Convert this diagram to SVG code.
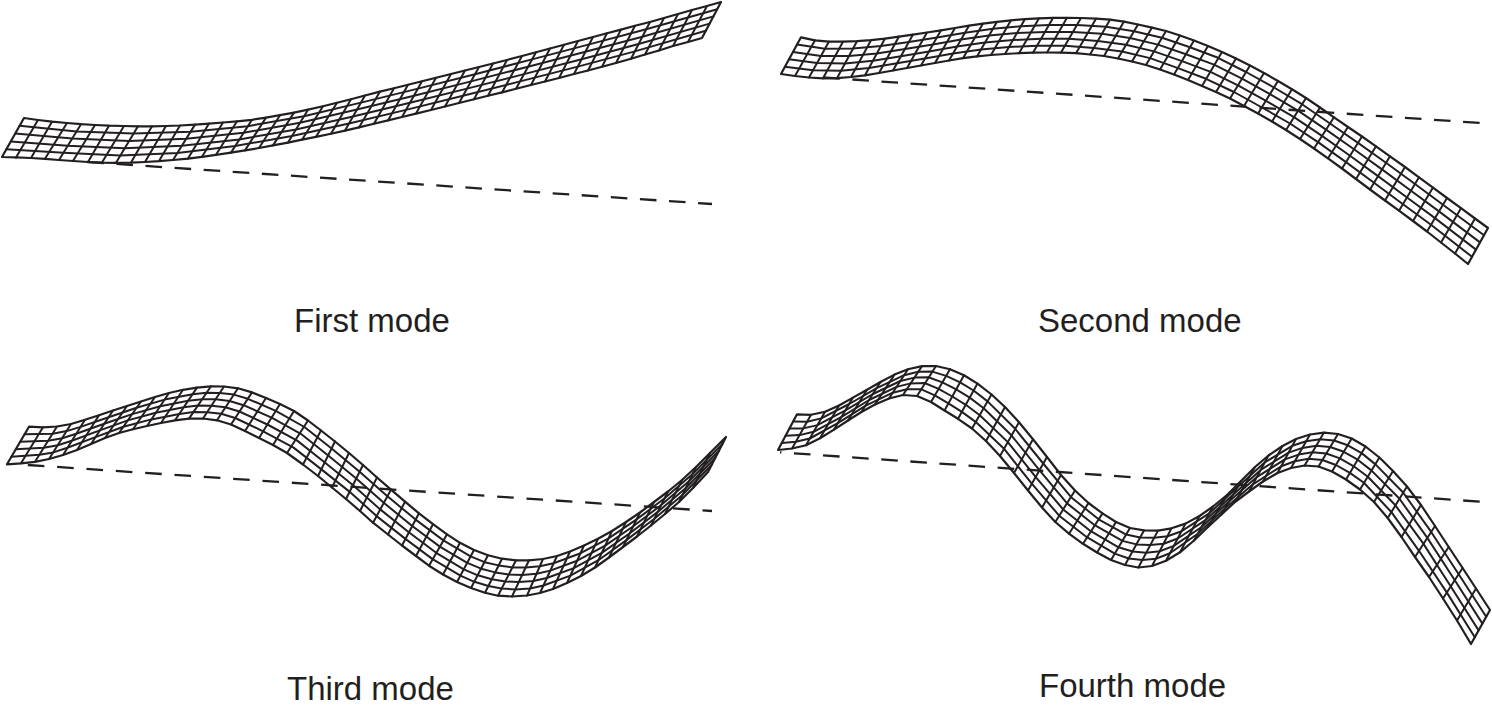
<svg xmlns="http://www.w3.org/2000/svg" width="1492" height="708" viewBox="0 0 1492 708">
<style>
.mesh{fill:none;stroke:#231f20;stroke-width:2;stroke-linejoin:round;stroke-linecap:round}
.edge{fill:none;stroke:#231f20;stroke-width:2.2;stroke-linejoin:round;stroke-linecap:round}
.axis{fill:none;stroke:#231f20;stroke-width:2.3}
.lbl{font-family:"Liberation Sans",Arial,sans-serif;font-size:33px;fill:#231f20}
</style>
<rect width="1492" height="708" fill="#ffffff"/>
<g id="axes">
<path class="axis" stroke-dasharray="16.6 12.55" d="M87.3 162L712 204"/>
<path class="axis" stroke-dasharray="16.6 12.55" d="M823.3 77.5L1480 123"/>
<path class="axis" stroke-dasharray="16.6 12.8" d="M27.8 465L712 511"/>
<path class="axis" stroke-dasharray="16.6 12.57" stroke-dashoffset="15.2" d="M780 452.3L1480 501.7"/>
</g>
<g id="first-mode">
<path class="edge" d="M24 118L38 120 52 121.7 67 123 81 124.2 95 125 109 125.7 124 126 138 126.3 152 126.3 166 126 180 125.5 195 124.6 209 123.6 223 122.5 237 121.3 252 119.8 266 117.6 280 115.2 294 112.6 308 109.7 323 106.3 337 102.8 351 99.2 365 95.5 380 91.6 394 88.2 408 84.8 422 81.3 436 77.8 451 74 465 70.5 479 67 493 63.5 507 60 522 56 536 52.3 550 48.5 564 44.8 578 41 593 37 607 33.2 621 29.6 635 25.8 650 22 664 18 678 14 692 10 707 6 721 2L702 38 688 42 673 46 659 50.5 645 54.5 631 58.7 616 63 602 66.8 588 70.5 574 74 559 78 545 81.5 531 85 516 88.8 502 92.4 488 95.8 474 99.3 459 103 445 106.5 431 110 416 113.6 402 117 388 120.4 374 123.8 359 127.4 345 130.6 331 133.7 316 136.8 302 139.7 288 142.6 273 145.4 259 148 245 150.4 231 152.6 216 154.8 202 156.8 188 158.6 173 160 159 161.2 145 162 131 162.6 116 162.8 102 162.6 88 162 73 161 59 160 45 158.9 31 158 16 157.4 2 157Z"/>
<path class="mesh" d="M19.6 125.8L76.6 131.4 133.6 133.6 190.6 131.7 247.8 126.2 304 116.3 361 102.6 418 88.6 475 74.2 532 59.4 589.2 44.4 646.2 29.3 717.2 9.2M15.2 133.6L72.2 138.5 129.2 140.9 186.2 138.8 243.6 132.8 300 122.8 357 109.5 414 95.7 471 81.4 528 66.7 585.4 51.8 642.4 36.7 713.4 16.4M10.8 141.4L67.8 145.7 124.8 148.2 181.8 145.8 239.4 139.4 296 129.4 353 116.6 410 102.8 467 88.6 524 74.1 581.6 59.2 638.6 44 709.6 23.6M6.4 149.2L63.4 152.8 120.4 155.5 177.4 152.9 235.2 146 292 136 349 123.5 406 109.9 463 95.8 520 81.4 577.8 66.6 634.8 51.4 705.8 30.8"/>
<path class="mesh" d="M38 120L16 157.6M52 121.7L31 158M67 123L45 158.8M81 124.2L59 160M95 125L73 161M109 125.7L88 162M124 126L102 162.6M138 126.3L116 162.8M152 126.3L131 162.6M166 126L145 162M180 125.5L159 161M195 124.6L173 160M209 123.6L188 158.6M223 122.5L202 156.8M237 121.3L216 154.8M252 119.8L231 152.6M266 117.6L245 150.4M280 115.2L259 148M294 112.6L273 145.4M308 109.7L288 142.6M323 106.3L302 139.7M337 102.8L316 136.8M351 99.2L331 133.7M365 95.5L345 130.6M380 91.6L359 127.4M394 88.2L374 123.8M408 84.8L388 120.4M422 81.3L402 117M436 77.8L416 113.6M451 74L431 110M465 70.5L445 106.5M479 67L459 103M493 63.5L474 99.3M507 60L488 95.8M522 56L502 92.4M536 52.3L516 88.8M550 48.5L531 85M564 44.8L545 81.5M578 41L559 78M593 37L574 74M607 33.2L588 70.5M621 29.6L602 66.8M635 25.8L616 63M650 22L631 58.7M664 18L645 54.5M678 14L659 50.5M692 10L673 46M707 6L688 42"/>
</g>
<g id="second-mode">
<path class="edge" d="M801 37.3L815 40.3 829 41.6 843 41.7 857 41.2 871 40.2 885 38.6 899 36.6 913 34.6 927 32.5 941 30.3 955 28 969 25.7 983 23.6 997 21.8 1011 20.3 1025 19.1 1039 18.3 1053 17.9 1067 17.8 1081 18 1096 18.7 1110 19.7 1124 21.6 1138 24.5 1152 27.6 1166 31 1180 35.5 1194 40.5 1208 46 1222 52 1236 58.5 1250 65.5 1264 73 1278 81 1292 89.3 1306 98 1320 107.5 1334 117.3 1348 127 1362 136.5 1376 146.3 1390 156.3 1405 167 1419 177.3 1433 187.6 1447 198 1461 208.2 1475 218.5 1488 228L1468 264 1455 253.5 1441 242.5 1427 231.5 1413 221 1399 210.7 1385 200.5 1370 189.5 1356 179 1342 168.5 1328 158.3 1314 148.5 1300 139 1286 130 1272 121.5 1258 113.5 1244 106 1230 98.5 1216 92 1202 86 1188 80 1174 74.5 1160 69.5 1146 65 1132 61.5 1118 58.5 1104 56 1090 54.5 1076 53.2 1061 52.6 1047 52.5 1033 52.7 1019 53.2 1005 54 991 55 977 56.4 963 58.2 949 60.5 935 63 921 65.5 907 68 893 70.5 879 73 865 75.3 851 77 837 78.2 823 78.3 809 77.5 795 76 781 74Z"/>
<path class="mesh" d="M797 44.6L825 48.8 853 48.6 881 46.1 909 41.9 937 37.4 965 32.7 993 28.7 1021 26.2 1049 24.9 1077 25 1106 26.8 1134 31.3 1162 37.8 1190 47.2 1218 57.8 1246 72 1274 87.5 1302 104.2 1330 123.5 1358 142.9 1386 162.7 1415 184 1443 204.7 1484 235.2M793 52L821 56 849 56 877 53.4 905 49 933 44.4 961 39.6 989 35.6 1017 33.1 1045 31.9 1073 31.9 1102 33.7 1130 38 1158 44.6 1186 54.2 1214 64.6 1242 78.6 1270 94.2 1298 110.6 1326 129.7 1354 149.3 1382 169.4 1411 190.8 1439 211.4 1480 242.4M789 59.3L817 63.1 845 63.4 873 60.7 901 56.2 929 51.5 957 46.6 985 42.5 1013 40.1 1041 38.8 1069 38.8 1098 40.9 1126 44.7 1154 51.4 1182 61.1 1210 71.6 1238 85.3 1266 100.8 1294 117.1 1322 135.9 1350 155.7 1378 176.1 1407 197.5 1435 218.1 1476 249.6M785 66.7L813 70.3 841 70.8 869 68 897 63.3 925 58.5 953 53.5 981 49.4 1009 47 1037 45.8 1065 45.7 1094 47.9 1122 51.5 1150 58.1 1178 68.1 1206 78.8 1234 92 1262 107.5 1290 123.5 1318 142.1 1346 162.1 1374 182.8 1403 204.3 1431 224.8 1472 256.8"/>
<path class="mesh" d="M815 40.3L795 76M829 41.6L809 77.5M843 41.7L823 78.3M857 41.2L837 78.2M871 40.2L851 77M885 38.6L865 75.3M899 36.6L879 73M913 34.6L893 70.5M927 32.5L907 68M941 30.3L921 65.5M955 28L935 63M969 25.7L949 60.5M983 23.6L963 58.2M997 21.8L977 56.4M1011 20.3L991 55M1025 19.1L1005 54M1039 18.3L1019 53.2M1053 17.9L1033 52.7M1067 17.8L1047 52.5M1081 18L1061 52.6M1096 18.7L1076 53.2M1110 19.7L1090 54.5M1124 21.6L1104 56M1138 24.5L1118 58.5M1152 27.6L1132 61.5M1166 31L1146 65M1180 35.5L1160 69.5M1194 40.5L1174 74.5M1208 46L1188 80M1222 52L1202 86M1236 58.5L1216 92M1250 65.5L1230 98.5M1264 73L1244 106M1278 81L1258 113.5M1292 89.3L1272 121.5M1306 98L1286 130M1320 107.5L1300 139M1334 117.3L1314 148.5M1348 127L1328 158.3M1362 136.5L1342 168.5M1376 146.3L1356 179M1390 156.3L1370 189.5M1405 167L1385 200.5M1419 177.3L1399 210.7M1433 187.6L1413 221M1447 198L1427 231.5M1461 208.2L1441 242.5M1475 218.5L1455 253.5"/>
</g>
<g id="third-mode">
<path class="edge" d="M29 426.7L43 427.3 57 426.5 71 424 85 419.8 99 415.2 113 410.5 127 406 141 401.5 155 397 169 393 183 389.8 197 387.6 211 386.3 224 386.5 238 388.3 252 392.4 266 398 280 404 294 411 308 420.5 321 430.5 335 441.5 349 453 363 465 377 477.5 391 489.7 405 501.7 419 513.3 433 524.2 447 534.3 460 542.8 474 550 488 555.3 502 558.7 516 560.3 529 560.3 543 559 557 556 570 551.5 584 545.5 598 538.8 612 531 626 522 640 512.5 654 502 668 491.5 682 480 696 467 710 453 726 437L708 472 693 488 679 502 665 514 651 525.5 637 536.5 623 547 609 557.5 595 567.5 581 576 567 583 553 589 540 593 527 595.5 512 596.5 498 595.7 485 592.7 471 588 457 582 443 574.5 429 565.7 416 556 402 545.5 388 534.5 373 522.7 360 511 346 499 332 487.5 318 476 303 464.5 287 453 273 445 259 438 245 431 231 424.5 217 420.3 203 418.5 189 418.6 175 420.3 161 423 147 426 133 429.3 119 433 105 438 91 444 77 450 63 455 49 459 35 461.8 21 463.3 7 464.3Z"/>
<path class="mesh" d="M24.6 434.2L52.6 433.8 66.6 431.1 80.6 426.9 108.6 417.2 136.6 407.8 164.6 399.6 192.6 394.2 206.6 392.7 219.8 392.9 233.8 394.6 247.8 398.8 275.8 410.8 304.4 427 331.6 448.5 359.6 471.8 387.4 496.2 415.6 519.6 443.4 540.4 470.6 556.4 484.6 562.2 498.6 565.4 512.4 567.4 525.6 567.6 539.8 566.3 553.6 563.2 580.6 553.2 608.6 538.3 636.6 519.4 664.6 498.3 692.6 474 722.4 444M20.2 441.7L48.2 440.8 62.2 438.2 76.2 433.8 104.2 423.8 132.2 414.1 160.2 406.2 188.2 400.8 202.2 399.2 215.6 399.3 229.6 401 243.6 405.2 271.6 417.6 300.8 433.8 328.2 455.5 356.2 478.4 383.8 502.8 412.2 526 439.8 546.6 467.2 562.8 481.2 568.7 495.2 572.4 508.8 574.5 522.2 574.9 536.6 573.7 550.2 570.6 577.2 560.7 605.2 545.6 633.2 526.3 661.2 505.1 689.2 481 718.8 451M15.8 449.3L43.8 447.8 57.8 445.3 71.8 440.8 99.8 430.4 127.8 420.4 155.8 412.8 183.8 407.3 197.8 405.6 211.4 405.8 225.4 407.3 239.4 411.5 267.4 424.5 297.2 440.6 324.8 462.5 352.8 485 380.2 509.4 408.8 532.3 436.2 552.8 463.8 569.3 477.8 575.3 491.8 579.2 505.2 581.5 518.8 582.1 533.4 581 546.8 578 573.8 568.1 601.8 552.9 629.8 533.2 657.8 511.9 685.8 488 715.2 458M11.4 456.8L39.4 454.8 53.4 452.4 67.4 447.8 95.4 437.1 123.4 426.7 151.4 419.4 179.4 413.9 193.4 412.1 207.2 412.2 221.2 413.7 235.2 418 263.2 431.3 293.6 447.6 321.4 469.4 349.4 491.6 376.6 516.1 405.4 538.9 432.6 559.1 460.4 575.7 474.4 581.8 488.4 586 501.6 588.6 515.4 589.4 530.2 588.4 543.4 585.5 570.4 575.6 598.4 560.2 626.4 540.1 654.4 518.7 682.4 495 711.6 465"/>
<path class="mesh" d="M43 427.3L21 463.3M57 426.5L35 461.8M71 424L49 459M85 419.8L63 455M99 415.2L77 450M113 410.5L91 444M127 406L105 438M141 401.5L119 433M155 397L133 429.3M169 393L147 426M183 389.8L161 423M197 387.6L175 420.3M211 386.3L189 418.6M224 386.5L203 418.5M238 388.3L217 420.3M252 392.4L231 424.5M266 398L245 431M280 404L259 438M294 411L273 445M308 420.5L287 453M321 430.5L303 464.5M335 441.5L318 476M349 453L332 487.5M363 465L346 499M377 477.5L360 511M391 489.7L373 522.7M405 501.7L388 534.5M419 513.3L402 545.5M433 524.2L416 556M447 534.3L429 565.7M460 542.8L443 574.5M474 550L457 582M488 555.3L471 588M502 558.7L485 592.7M516 560.3L498 595.7M529 560.3L512 596.5M543 559L527 595.5M557 556L540 593M570 551.5L553 589M584 545.5L567 583M598 538.8L581 576M612 531L595 567.5M626 522L609 557.5M640 512.5L623 547M654 502L637 536.5M668 491.5L651 525.5M682 480L665 514M696 467L679 502M710 453L693 488"/>
</g>
<g id="fourth-mode">
<path class="edge" d="M797 414.3L811 414.8 825 411.7 839 405.5 853 397.6 867 389.7 880.5 382 894.5 374.6 908 369.2 922 366.1 936 366 950 369.2 964 375.3 977.5 383.6 991.5 394.5 1005 407 1019 422.2 1033 439.3 1047 457 1061 475 1075 490.5 1088.5 503 1102.5 513.4 1116 522 1130 528 1144 530.4 1158 530.6 1171.5 528.3 1185.5 523.6 1199.5 516 1213 506.5 1227 495 1241 481 1255 467 1268.5 455.5 1282.5 446 1296 439 1310 434.5 1324 432.6 1338 434 1351.7 438.5 1365.5 446.5 1379.4 457.5 1393 471 1407 486.5 1421 505 1435 526 1448.7 547 1462.6 568 1476 588.5 1490 610L1471 644 1457 620.5 1443 598.5 1429 577 1415 557 1401.5 537 1387.7 518 1374 502 1360 489.5 1346 479.5 1332 471.5 1318.5 466.5 1304.6 465.5 1291 468 1277.5 473 1263 481.5 1249 491.5 1235 502 1221.5 514.5 1208 527 1194 540.5 1180 552.3 1166 560.8 1152 566 1138.4 567.5 1125 565 1111 560 1097 552.5 1083 543.8 1069 533.7 1055.3 522 1042 507.5 1028 490.5 1014 473 1000 456 986 441 972 428.5 958 418.8 944.5 410.5 931 402 917 396 903 395 889 398.5 875 404.5 861.4 412 848 420.5 834 429.6 820 438.3 806 445.2 792 448.5 778 450Z"/>
<path class="mesh" d="M793.2 421.4L807.2 421.7 821.2 418.4 849.2 404 876.7 388.1 904.2 375.2 918.2 371.8 932.2 371.6 946.2 375.9 960.1 382.4 973.6 390.5 987.6 401.4 1015.2 428.8 1043.2 463.5 1071.1 497.2 1098.6 519.3 1126.2 534.6 1140.2 537.4 1154.1 537.8 1167.6 536.3 1181.6 531.2 1209.2 513.4 1237.1 487.5 1264.6 462.5 1292.3 445.8 1306.2 441.2 1320.1 439.2 1334.1 440.5 1347.8 445.3 1361.6 453.1 1375.5 464.4 1403.1 492.5 1431 531.7 1458.7 574.2 1486.2 616.8M789.4 428.6L803.4 428.4 817.4 425.1 845.4 410.4 872.9 394 900.4 381 914.4 377.6 928.4 377.2 942.4 382.4 956.2 389.4 969.7 397.6 983.7 408.3 1011.4 435.3 1039.4 470.1 1067.1 503.4 1094.7 525.2 1122.4 540.9 1136.4 544.4 1150.2 545 1163.7 543.8 1177.7 538.5 1205.4 520.2 1233.2 494.5 1260.7 469.9 1288.6 452.6 1302.4 447.9 1316.2 445.8 1330.2 447 1343.8 451.8 1357.7 459.7 1371.6 470.6 1399.3 498.5 1427 537.4 1454.8 580.3 1482.4 623.6M785.6 435.7L799.6 435.1 813.6 431.8 841.6 416.8 869.1 400 896.6 386.9 910.6 383.4 924.6 383 938.6 388.8 952.3 396.5 965.8 404.8 979.8 415.2 1007.6 441.9 1035.6 476.9 1063.2 509.5 1090.8 531.2 1118.6 547.3 1132.6 551.5 1146.2 552.7 1159.8 551.2 1173.8 545.9 1201.6 527 1229.3 501.2 1256.8 477.1 1284.9 459.4 1298.6 454.6 1312.4 452.3 1326.3 453.5 1339.9 458.4 1353.8 466.3 1367.8 476.7 1395.4 505.3 1423 543.1 1450.8 586.5 1478.6 630.4M781.8 442.9L795.8 441.8 809.8 438.5 837.8 423.2 865.3 405.9 892.8 392.7 906.8 389.2 920.8 389.2 934.8 395.3 948.4 403.4 961.9 411.9 975.9 422.1 1003.8 448.4 1031.8 483.7 1059.2 515.7 1086.9 537.2 1114.8 553.6 1128.8 558.5 1142.3 560 1155.9 558.7 1169.9 553.2 1197.8 533.8 1225.4 508 1252.9 484.3 1281.2 466.3 1294.8 461.3 1308.5 458.8 1322.4 460 1335.9 465 1349.9 472.9 1363.9 482.8 1391.6 512.3 1419 550.8 1446.9 592.6 1474.8 637.2"/>
<path class="mesh" d="M811 414.8L792 448.5M825 411.7L806 445.2M839 405.5L820 438.3M853 397.6L834 429.6M867 389.7L848 420.5M880.5 382L861.4 412M894.5 374.6L875 404.5M908 369.2L889 398.5M922 366.1L903 395M936 366L917 396M950 369.2L931 402M964 375.3L944.5 410.5M977.5 383.6L958 418.8M991.5 394.5L972 428.5M1005 407L986 441M1019 422.2L1000 456M1033 439.3L1014 473M1047 457L1028 490.5M1061 475L1042 507.5M1075 490.5L1055.3 522M1088.5 503L1069 533.7M1102.5 513.4L1083 543.8M1116 522L1097 552.5M1130 528L1111 560M1144 530.4L1125 565M1158 530.6L1138.4 567.5M1171.5 528.3L1152 566M1185.5 523.6L1166 560.8M1199.5 516L1180 552.3M1213 506.5L1194 540.5M1227 495L1208 527M1241 481L1221.5 514.5M1255 467L1235 502M1268.5 455.5L1249 491.5M1282.5 446L1263 481.5M1296 439L1277.5 473M1310 434.5L1291 468M1324 432.6L1304.6 465.5M1338 434L1318.5 466.5M1351.7 438.5L1332 471.5M1365.5 446.5L1346 479.5M1379.4 457.5L1360 489.5M1393 471L1374 502M1407 486.5L1387.7 518M1421 505L1401.5 537M1435 526L1415 557M1448.7 547L1429 577M1462.6 568L1443 598.5M1476 588.5L1457 620.5"/>
</g>
<g id="labels">
<text class="lbl" x="294" y="332">First mode</text>
<text class="lbl" x="1038" y="332">Second mode</text>
<text class="lbl" x="287" y="700">Third mode</text>
<text class="lbl" x="1039" y="697">Fourth mode</text>
</g>
</svg>
